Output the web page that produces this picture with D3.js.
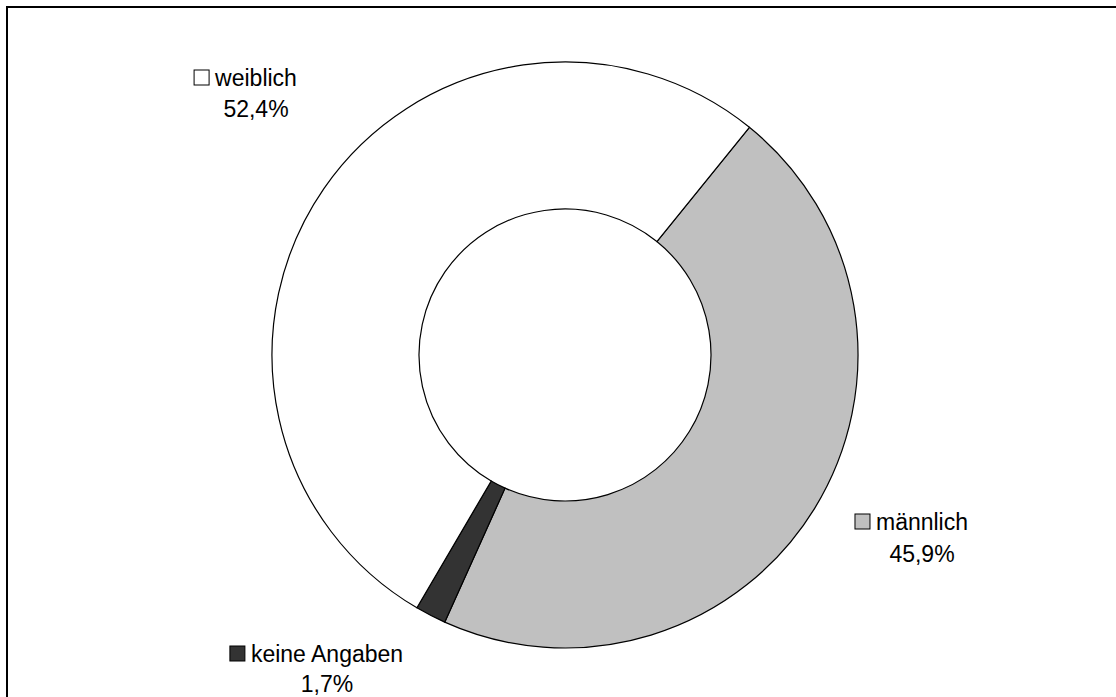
<!DOCTYPE html>
<html>
<head>
<meta charset="utf-8">
<script src="https://cdn.jsdelivr.net/npm/d3@7"></script>
<style>
  html, body { margin: 0; padding: 0; background: #fff; }
  svg { display: block; }
  text { font-family: "Liberation Sans", Arial, sans-serif; font-size: 23px; fill: #000; }
</style>
</head>
<body>
<svg id="chart" width="1116" height="697"></svg>
<script>
// Geschlechterverteilung (Anteile in Prozent)
const categories = ["männlich", "keine Angaben", "weiblich"];
const values = [45.9, 1.7, 52.4];
const valueLabels = ["45,9%", "1,7%", "52,4%"];
const colors = ["#c0c0c0", "#333333", "#ffffff"];

const svg = d3.select("#chart");
const W = 1116, H = 697;

// Rahmen des Diagrammbereichs
svg.append("rect")
  .attr("x", 7).attr("y", 7)
  .attr("width", W + 20).attr("height", H + 20)
  .attr("fill", "#fff").attr("stroke", "#000").attr("stroke-width", 2);

const cx = 565, cy = 355;
const outerR = 293, innerR = 146;
const startDeg = 39;

const data = categories.map((c, i) => ({ name: c, value: values[i], label: valueLabels[i], color: colors[i] }));

const pie = d3.pie()
  .sort(null)
  .value(d => d.value)
  .startAngle(startDeg * Math.PI / 180)
  .endAngle((startDeg + 360) * Math.PI / 180);

const arc = d3.arc().innerRadius(innerR).outerRadius(outerR);

const g = svg.append("g").attr("transform", `translate(${cx},${cy})`);
g.selectAll("path.slice")
  .data(pie(data))
  .join("path")
  .attr("class", "slice")
  .attr("d", arc)
  .attr("fill", d => d.data.color)
  .attr("stroke", "#000")
  .attr("stroke-width", 1.2)
  .attr("stroke-linejoin", "round");

// Beschriftungen: Name mit Farbkästchen, darunter der Anteil
const labelPos = {
  "weiblich": { x: 256, y: 86, gap: 31 },
  "männlich": { x: 922, y: 530, gap: 32 },
  "keine Angaben": { x: 327, y: 662, gap: 30 }
};

data.forEach(d => {
  const p = labelPos[d.name];
  const lg = svg.append("g");
  const t = lg.append("text")
    .attr("x", p.x).attr("y", p.y)
    .attr("text-anchor", "middle")
    .text(d.name);
  const w = t.node().getComputedTextLength();
  const s = 15;
  lg.append("rect")
    .attr("x", p.x - w / 2 - s - 6)
    .attr("y", p.y - s - 1)
    .attr("width", s).attr("height", s)
    .attr("fill", d.color)
    .attr("stroke", "#000").attr("stroke-width", 1);
  lg.append("text")
    .attr("x", p.x).attr("y", p.y + p.gap)
    .attr("text-anchor", "middle")
    .text(d.label);
});
</script>
</body>
</html>
